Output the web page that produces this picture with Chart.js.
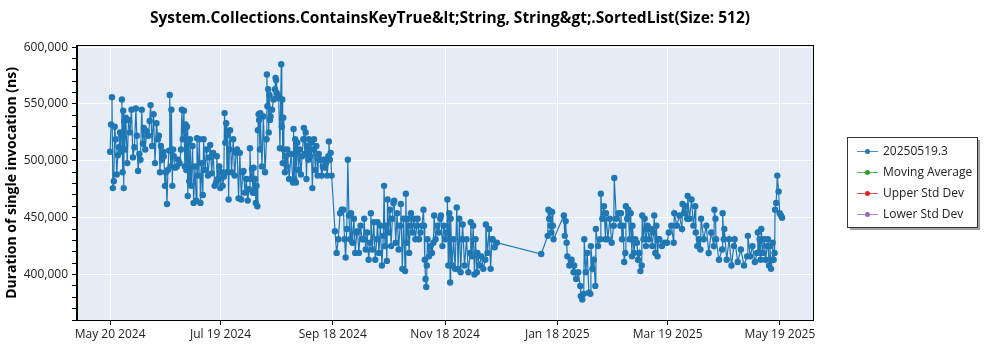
<!DOCTYPE html>
<html>
<head>
<meta charset="utf-8">
<script src="https://cdn.jsdelivr.net/npm/chart.js@4.4.1/dist/chart.umd.min.js"></script>
<style>
  html, body { margin: 0; padding: 0; background: #fff; }
  #wrap { width: 1000px; height: 350px; position: relative; }
</style>
</head>
<body>
<div id="wrap"><canvas id="chart" width="1000" height="350"></canvas></div>
<script>
/* ===== SortedList ContainsKeyTrue benchmark history ===== */
(function () {
  "use strict";

  var TITLE = "System.Collections.ContainsKeyTrue&lt;String, String&gt;.SortedList(Size: 512)";
  var Y_TITLE = "Duration of single invocation (ns)";

  // x = days since May 20 2024 (one entry per benchmark run)
  var runDay = [
    0, 0.5, 1, 1.5, 2, 2.5, 3, 3.6, 4.2, 4.8,
    5.4, 5.7, 6, 6.4, 6.8, 7.1, 7.4, 7.7, 8,
    8.5, 9.3, 10, 10.8, 11.6, 12.4, 13.2, 14,
    14.5, 15.2, 15.9, 16.5, 17.2, 17.8,
    18.3, 19.1, 19.9, 20.7, 21.5,
    22, 22.8, 23.6, 24.4, 25.2, 26,
    26.5, 27.1, 27.6, 28.2, 28.8,
    29.2, 29.8, 30.3, 30.9, 31.4, 32,
    32.4, 32.9, 33.3, 33.8, 34.2,
    34.6, 35.4, 36.2, 37, 37.8, 38.5,
    39, 39.5, 40.1, 40.6,
    41, 41.4, 41.8, 42.2, 42.6, 43,
    43.4, 44.1, 44.8, 45.4, 46.1, 46.8,
    47.2, 47.8, 48.5, 49.1, 49.8, 50.4,
    50.8, 51.6, 52.4, 53.2, 54,
    54.4, 55.2, 56, 56.8, 57.6,
    58, 58.6, 59.3, 59.9, 60.5, 61.2, 61.8,
    62.2, 62.6, 63.1, 63.5, 63.9, 64.4, 64.8,
    65.2, 66, 66.9, 67.7, 68.5,
    69, 69.8, 70.5, 71.3, 72,
    72.5, 73.3, 74, 74.8, 75.5,
    76, 76.5, 77.1, 77.6,
    78, 78.4, 78.8, 79.2, 79.6, 80,
    80.3, 80.7, 81, 81.4,
    81.6, 82.5, 83.3, 84.2, 85,
    85.2, 85.5, 85.9, 86.2, 86.6, 86.9,
    87.2, 88, 88.8, 89.6,
    89.9, 90.2, 90.5,
    90.8, 91.6, 92.3,
    93, 93.3, 93.6, 93.8, 94.1,
    94.4, 95, 95.5, 96,
    96.3, 97.3, 98.4, 99.4,
    99.7, 100.1, 100.6, 101, 101.4,
    101.7, 102.4, 103, 103.7, 104.3, 105,
    105.3, 105.8, 106.3, 106.7, 107.2, 107.7,
    108, 108.6, 109.3, 109.9, 110.5,
    110.8, 111.5, 112.1, 112.8, 113.4, 114.1,
    114.4, 115, 115.6, 116.2, 116.8, 117.4, 118, 118.6,
    118.9, 119.4, 119.9, 120.4,
    122.2, 123.1, 124, 125, 125.9,
    126.8, 127.4, 128, 128.6, 129.2, 129.8, 130.4,
    130.9, 131.7, 132.5, 133.2, 134,
    134.4, 135.2, 136.1, 136.9, 137.7,
    138.1, 138.9, 139.7, 140.5, 141.3,
    141.7, 142.5, 143.3, 144.1, 144.9,
    145.3, 146.1, 146.9, 147.7, 148.5,
    148.9, 149.4, 149.9, 150.4,
    150.8, 151.4, 152.1, 152.7, 153.4, 154,
    154.4, 155.2, 156, 156.8, 157.6,
    158, 158.8, 159.5, 160.3,
    160.7, 161.3, 161.9, 162.5, 163.1,
    163.5, 164.3, 165.1, 165.9, 166.7,
    167.1, 167.9, 168.7, 169.5, 170.3,
    170.6, 171, 171.4, 171.8, 172.1,
    172.5, 173.3, 174.1, 174.9, 175.7,
    176.1, 176.9, 177.8, 178.6, 179.4,
    179.8, 180.6, 181.4, 182.2, 183,
    183.3, 183.8, 184.3, 184.8,
    185.1, 185.9, 186.7, 187.5,
    188.4, 189.1, 189.8, 190.5, 191.2,
    191.6, 192.6, 193.7, 194.7, 195.7,
    196, 196.7, 197.3, 198, 198.6, 199.3,
    199.6, 200.7, 201.8, 202.8, 203.9,
    204.2, 205.1, 206, 206.8, 207.5,
    207.9, 209, 210.2,
    234.3,
    237.8, 238.2, 238.6, 239, 239.4, 239.8, 240.2, 240.6, 241,
    246.6, 247.1, 247.6, 248.1,
    248.5, 249.6, 250.8, 251.9,
    252.2, 253.3, 254.4, 255.5,
    255.8, 256.6, 257.4,
    257.7, 258.5, 259.3, 260.2, 261,
    261.3, 262.1, 262.9, 263.7,
    264, 265.2, 266.4,
    266.7, 267.5, 268.4, 269.2,
    269.5, 270.5, 271.6, 272.6, 273.7,
    274, 275.1, 276.2, 277.3,
    277.6, 278.2, 278.8, 279.4, 280,
    280.3, 281, 281.6, 282.3, 282.9, 283.6,
    283.9, 284.7, 285.4,
    286.3, 286.9, 287.6, 288.2, 288.9,
    289.2, 289.9, 290.5, 291.2, 291.8,
    292.1, 292.9, 293.8, 294.6, 295.4,
    295.7, 296.3, 296.9, 297.5, 298.1,
    298.5, 299.9, 301.3, 302.7,
    303.6, 305, 306.3,
    306.6, 308, 309.4, 310.8,
    311.1, 311.9, 312.8, 313.6,
    313.9, 314.9, 316, 317, 318,
    318.3, 319.1, 320, 320.8,
    321.2, 322.6, 324, 325.3, 326.7, 328.1,
    328.4, 329,
    329.3, 330.9, 332.6,
    332.9, 333.5,
    333.8, 335.1, 336.4, 337.7, 339,
    339.4, 341.1, 342.8, 344.5, 346.2,
    346.6, 347.9, 349.1, 350.4, 351.6,
    352, 352.5, 353, 353.5,
    353.9, 354.7, 355.5, 356.3, 357.1,
    357.5, 358.1, 358.6, 359.2, 359.8,
    360.1, 360.6, 361.1,
    361.4, 362, 362.6, 363.3, 363.9, 364.6, 365.2
  ];

  // ns per invocation, same order as runDay
  var durationNs = [
    508e3, 532e3, 556e3, 476e3, 482e3, 530e3, 519e3, 488e3, 505e3, 512e3,
    525e3, 508e3, 522e3, 554e3, 490e3, 544e3, 476e3, 535e3, 510e3,
    538e3, 498e3, 536e3, 525e3, 545e3, 503e3, 512e3, 546e3,
    522e3, 491e3, 506e3, 501e3, 545e3, 515e3,
    529e3, 510e3, 526e3, 522e3, 535e3,
    549e3, 513e3, 541e3, 498e3, 533e3, 519e3,
    522e3, 490e3, 513e3, 501e3, 508e3,
    504e3, 478e3, 490e3, 462e3, 492e3, 509e3,
    558e3, 495e3, 545e3, 478e3, 510e3,
    504e3, 494e3, 495e3, 501e3, 498e3, 510e3,
    545e3, 519e3, 544e3, 495e3,
    532e3, 492e3, 530e3, 469e3, 516e3, 482e3,
    519e3, 478e3, 513e3, 463e3, 495e3, 465e3,
    520e3, 487e3, 519e3, 463e3, 498e3, 470e3,
    519e3, 492e3, 510e3, 487e3, 503e3,
    514e3, 489e3, 507e3, 478e3, 481e3,
    504e3, 484e3, 495e3, 476e3, 490e3, 478e3, 486e3,
    542e3, 516e3, 533e3, 490e3, 523e3, 466e3, 510e3,
    527e3, 490e3, 519e3, 487e3, 507e3,
    510e3, 467e3, 507e3, 466e3, 490e3,
    491e3, 472e3, 484e3, 465e3, 475e3,
    511e3, 484e3, 493e3, 472e3,
    494e3, 472e3, 484e3, 463e3, 478e3, 460e3,
    527e3, 541e3, 536e3, 510e3,
    542e3, 495e3, 539e3, 490e3, 519e3,
    576e3, 548e3, 563e3, 525e3, 558e3, 536e3,
    539e3, 545e3, 554e3, 563e3,
    573e3, 571e3, 560e3,
    555e3, 557e3, 511e3,
    585e3, 530e3, 554e3, 498e3, 538e3,
    510e3, 490e3, 504e3, 495e3,
    510e3, 484e3, 506e3, 481e3,
    528e3, 484e3, 519e3, 481e3, 507e3,
    516e3, 492e3, 510e3, 488e3, 504e3, 519e3,
    529e3, 506e3, 525e3, 484e3, 513e3, 501e3,
    519e3, 504e3, 516e3, 476e3, 510e3,
    519e3, 492e3, 513e3, 487e3, 506e3, 501e3,
    501e3, 487e3, 495e3, 501e3, 494e3, 498e3, 487e3, 504e3,
    517e3, 501e3, 507e3, 487e3,
    438e3, 419e3, 431e3, 454e3, 457e3,
    457e3, 431e3, 415e3, 440e3, 501e3, 452e3, 431e3,
    454e3, 428e3, 449e3, 419e3, 437e3,
    438e3, 419e3, 443e3, 431e3, 431e3,
    449e3, 422e3, 437e3, 413e3, 428e3,
    454e3, 422e3, 446e3, 413e3, 431e3,
    446e3, 419e3, 443e3, 408e3, 434e3,
    478e3, 425e3, 443e3, 412e3,
    466e3, 437e3, 457e3, 425e3, 449e3, 463e3,
    465e3, 428e3, 454e3, 422e3, 443e3,
    462e3, 405e3, 449e3, 403e3,
    471e3, 428e3, 449e3, 419e3, 443e3,
    454e3, 437e3, 449e3, 431e3, 443e3,
    449e3, 431e3, 437e3, 443e3, 457e3,
    443e3, 413e3, 396e3, 389e3, 408e3,
    431e3, 416e3, 425e3, 419e3, 428e3,
    452e3, 431e3, 443e3, 437e3, 449e3,
    452e3, 425e3, 443e3, 431e3, 437e3,
    466e3, 408e3, 454e3, 393e3,
    449e3, 408e3, 431e3, 405e3,
    459e3, 405e3, 449e3, 402e3, 431e3,
    444e3, 408e3, 431e3, 402e3, 419e3,
    446e3, 416e3, 443e3, 400e3, 431e3, 402e3,
    419e3, 408e3, 416e3, 405e3, 413e3,
    444e3, 419e3, 440e3, 405e3, 431e3,
    431e3, 424e3, 428e3,
    418e3,
    434e3, 457e3, 449e3, 456e3, 443e3, 437e3, 455e3, 443e3, 431e3,
    452e3, 434e3, 447e3, 428e3,
    416e3, 408e3, 413e3, 402e3,
    408e3, 396e3, 402e3, 390e3,
    381e3, 378e3, 383e3,
    431e3, 402e3, 419e3, 384e3, 383e3,
    425e3, 405e3, 413e3, 390e3,
    440e3, 425e3, 431e3,
    471e3, 449e3, 460e3, 431e3,
    454e3, 431e3, 449e3, 428e3, 443e3,
    485e3, 449e3, 454e3, 443e3,
    454e3, 431e3, 443e3, 411e3, 419e3,
    460e3, 449e3, 457e3, 431e3, 454e3, 416e3,
    443e3, 419e3, 431e3,
    428e3, 413e3, 419e3, 403e3, 408e3,
    452e3, 431e3, 449e3, 425e3, 440e3,
    443e3, 431e3, 440e3, 425e3, 437e3,
    452e3, 419e3, 443e3, 416e3, 431e3,
    431e3, 425e3, 428e3, 428e3,
    437e3, 443e3, 428e3,
    454e3, 443e3, 452e3, 440e3,
    462e3, 454e3, 460e3, 449e3,
    469e3, 449e3, 466e3, 443e3, 460e3,
    437e3, 425e3, 431e3, 422e3,
    449e3, 431e3, 443e3, 419e3, 437e3, 425e3,
    457e3, 449e3,
    431e3, 413e3, 422e3,
    454e3, 431e3,
    440e3, 413e3, 431e3, 408e3, 425e3,
    431e3, 411e3, 422e3, 408e3, 416e3,
    434e3, 416e3, 425e3, 411e3, 419e3,
    437e3, 419e3, 431e3, 413e3,
    440e3, 419e3, 431e3, 413e3, 425e3,
    431e3, 408e3, 425e3, 405e3, 413e3,
    428e3, 413e3, 419e3,
    457e3, 463e3, 487e3, 473e3, 454e3, 452e3, 450e3
  ];

  var tickDays = [0, 60, 121, 182, 243, 303, 364];
  var tickLabels = ["May 20 2024", "Jul 19 2024", "Sep 18 2024", "Nov 18 2024", "Jan 18 2025", "Mar 19 2025", "May 19 2025"];
  // y: minor tick every 10,000, label + grid every 50,000
  var yTicks = [360e3, 370e3, 380e3, 390e3, 400e3, 410e3, 420e3, 430e3, 440e3, 450e3, 460e3, 470e3, 480e3,
    490e3, 500e3, 510e3, 520e3, 530e3, 540e3, 550e3, 560e3, 570e3, 580e3, 590e3, 600e3];

  var seriesNames = ["20250519.3", "Moving Average", "Upper Std Dev", "Lower Std Dev"];
  var seriesColors = ["#1f77b4", "#2ca02c", "#d62728", "#9467bd"];

  var FONT = "'Open Sans', 'Noto Sans', sans-serif";

  var points = runDay.map(function (d, i) { return { x: d, y: durationNs[i] }; });

  var datasets = seriesNames.map(function (n, i) {
    return {
      label: n,
      data: i === 0 ? points : [],
      showLine: true,
      borderColor: seriesColors[i],
      backgroundColor: seriesColors[i],
      borderWidth: 1.2,
      pointRadius: 3.2,
      pointBorderWidth: 0,
      pointHoverRadius: 3.2
    };
  });

  function fmt(v) { return v.toLocaleString("en-US"); }
  function isMajor(v) { return Math.round(v) % 50000 === 0; }

  // background, frame, title and boxed legend
  var deco = {
    id: "deco",
    beforeDraw: function (c) {
      var a = c.chartArea, x = c.ctx;
      x.save();
      x.fillStyle = "#e5ecf6";
      x.fillRect(a.left, a.top, a.right - a.left, a.bottom - a.top);
      x.restore();
    },
    afterDraw: function (c) {
      var a = c.chartArea, x = c.ctx;
      x.save();
      x.strokeStyle = "#000"; x.lineWidth = 1;
      x.strokeRect(Math.round(a.left) - 0.5, Math.round(a.top) - 0.5, Math.round(a.right - a.left) + 1, Math.round(a.bottom - a.top) + 1);

      x.fillStyle = "#000";
      x.font = "bold 15.5px " + FONT;
      x.textAlign = "center"; x.textBaseline = "middle";
      x.fillText(TITLE, 450, 19);

      // legend
      var lx = 847, ly = 137, lw = 130, lh = 90;
      x.fillStyle = "#a0a0a0";
      x.fillRect(lx + 3, ly + 3, lw, lh);
      x.fillStyle = "#fff";
      x.fillRect(lx, ly, lw, lh);
      x.strokeStyle = "#333";
      x.strokeRect(lx + 0.5, ly + 0.5, lw, lh);
      x.font = "12px " + FONT;
      x.textAlign = "left";
      seriesNames.forEach(function (n, i) {
        var y = ly + 14 + i * 21;
        x.strokeStyle = seriesColors[i]; x.globalAlpha = 0.8;
        x.beginPath(); x.moveTo(lx + 10, y + 0.5); x.lineTo(lx + 31, y + 0.5); x.stroke();
        x.globalAlpha = 1;
        x.fillStyle = seriesColors[i];
        x.beginPath(); x.arc(lx + 20.5, y + 0.5, 2.5, 0, Math.PI * 2); x.fill();
        x.fillStyle = "#222";
        x.fillText(n, lx + 36, y + 1);
      });
      x.restore();
    }
  };

  new Chart(document.getElementById("chart"), {
    type: "scatter",
    data: { datasets: datasets },
    options: {
      responsive: false,
      devicePixelRatio: 1,
      animation: false,
      layout: { padding: { left: 0, top: 46, right: 187, bottom: 0 } },
      plugins: { legend: { display: false }, title: { display: false }, tooltip: { enabled: false } },
      scales: {
        x: {
          type: "linear", min: -18, max: 382,
          afterBuildTicks: function (s) { s.ticks = tickDays.map(function (v) { return { value: v }; }); },
          afterFit: function (s) { s.height = 30; },
          grid: { color: "#fff", lineWidth: 1, tickColor: "#000", tickLength: 5 },
          border: { color: "#000", width: 1 },
          ticks: {
            padding: 2, color: "#222", font: { family: FONT, size: 12 }, maxRotation: 0, autoSkip: false,
            callback: function (v) { var i = tickDays.indexOf(v); return i < 0 ? "" : tickLabels[i]; }
          }
        },
        y: {
          type: "linear", min: 360000, max: 601000,
          afterBuildTicks: function (s) { s.ticks = yTicks.map(function (v) { return { value: v }; }); },
          afterFit: function (s) { s.width = 77; },
          grid: {
            lineWidth: 1, tickLength: 5,
            color: function (ctx) { return ctx.tick && isMajor(ctx.tick.value) ? "#fff" : "rgba(0,0,0,0)"; },
            tickColor: "#000"
          },
          border: { color: "#000", width: 1 },
          ticks: {
            padding: 4, color: "#222", font: { family: FONT, size: 12 }, autoSkip: false,
            callback: function (v) { return isMajor(v) ? fmt(v) : ""; }
          },
          title: { display: true, text: Y_TITLE, color: "#000", font: { family: FONT, size: 14, weight: "bold" }, padding: { top: 4, bottom: 0 } }
        }
      }
    },
    plugins: [deco]
  });
})();
</script>
</body>
</html>
